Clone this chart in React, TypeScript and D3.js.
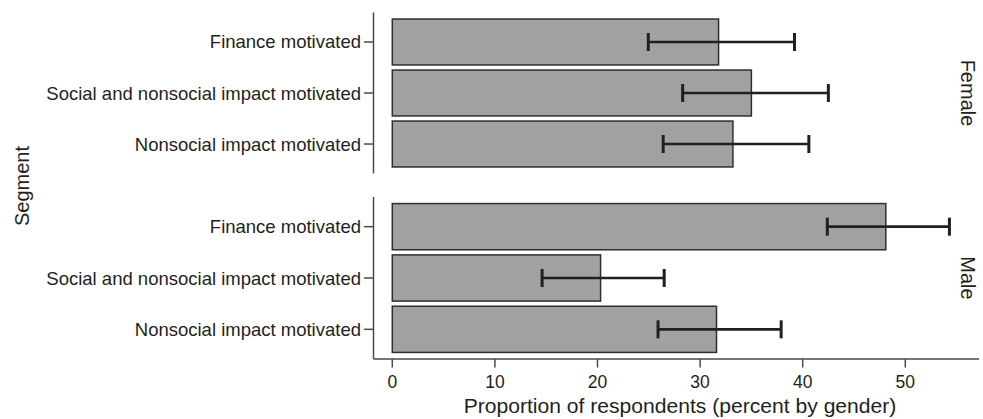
import React from "react";
import * as d3 from "d3";

const categories = ["Finance motivated", "Social and nonsocial impact motivated", "Nonsocial impact motivated"];
const panels = ["Female", "Male"];
const femaleValues = [31.8, 35.0, 33.2];
const femaleLow = [24.95, 28.3, 26.4];
const femaleHigh = [39.2, 42.5, 40.6];
const maleValues = [48.1, 20.3, 31.6];
const maleLow = [42.4, 14.6, 25.9];
const maleHigh = [54.3, 26.5, 37.9];
const xTicks = [0, 10, 20, 30, 40, 50];

const W = 983;
const H = 419;
const FONT = "'Liberation Sans', Arial, Helvetica, sans-serif";

export default function App() {
  const left = 373.5;
  const right = 979;
  const x = d3.scaleLinear().domain([0, 50]).range([392.3, 905.3]);
  const panelRanges: [number, number][] = [
    [12.5, 173.5],
    [197, 359],
  ];
  const series = [
    { values: femaleValues, low: femaleLow, high: femaleHigh },
    { values: maleValues, low: maleLow, high: maleHigh },
  ];
  const axisColor = "#4a4a4a";
  const textColor = "#231f20";

  return (
    <svg width={W} height={H} style={{ position: "absolute", left: 0, top: 0, background: "#fff" }}>
      {panels.map((p, pi) => {
        const [y0, y1] = panelRanges[pi];
        const y = d3.scaleBand<string>().domain(categories).range([y0, y1]).paddingInner(0.1).paddingOuter(0.128);
        const s = series[pi];
        return (
          <g key={p}>
            <line x1={left} x2={left} y1={y0} y2={y1} stroke={axisColor} strokeWidth={1.5} />
            {categories.map((c, i) => {
              const yc = (y(c) as number) + y.bandwidth() / 2;
              return (
                <g key={c}>
                  <line x1={left - 9.5} x2={left} y1={yc} y2={yc} stroke={axisColor} strokeWidth={1.5} />
                  <text x={361} y={yc} textAnchor="end" dominantBaseline="central" fontFamily={FONT} fontSize={18.5} fill={textColor}>
                    {c}
                  </text>
                  <rect
                    x={x(0)}
                    y={y(c) as number}
                    width={x(s.values[i]) - x(0)}
                    height={y.bandwidth()}
                    fill="#a0a1a3"
                    stroke="#2e2e2e"
                    strokeWidth={1.5}
                  />
                  <line x1={x(s.low[i])} x2={x(s.high[i])} y1={yc} y2={yc} stroke="#231f20" strokeWidth={2.6} />
                  <line x1={x(s.low[i])} x2={x(s.low[i])} y1={yc - 9} y2={yc + 9} stroke="#231f20" strokeWidth={3} />
                  <line x1={x(s.high[i])} x2={x(s.high[i])} y1={yc - 9} y2={yc + 9} stroke="#231f20" strokeWidth={3} />
                </g>
              );
            })}
            <text
              transform={`translate(968,${(y0 + y1) / 2}) rotate(90)`}
              textAnchor="middle"
              dominantBaseline="central"
              fontFamily={FONT}
              fontSize={20}
              fill={textColor}
            >
              {p}
            </text>
          </g>
        );
      })}
      <line x1={left} x2={right} y1={359} y2={359} stroke={axisColor} strokeWidth={1.5} />
      {xTicks.map((t) => (
        <g key={t}>
          <line x1={x(t)} x2={x(t)} y1={359} y2={367.5} stroke={axisColor} strokeWidth={1.5} />
          <text x={x(t)} y={387.7} textAnchor="middle" fontFamily={FONT} fontSize={17.5} fill={textColor}>
            {t}
          </text>
        </g>
      ))}
      <text x={680} y={413} textAnchor="middle" fontFamily={FONT} fontSize={21.1} fill={textColor}>
        Proportion of respondents (percent by gender)
      </text>
      <text
        transform={`translate(22,186) rotate(-90)`}
        textAnchor="middle"
        dominantBaseline="central"
        fontFamily={FONT}
        fontSize={20}
        fill={textColor}
      >
        Segment
      </text>
    </svg>
  );
}
